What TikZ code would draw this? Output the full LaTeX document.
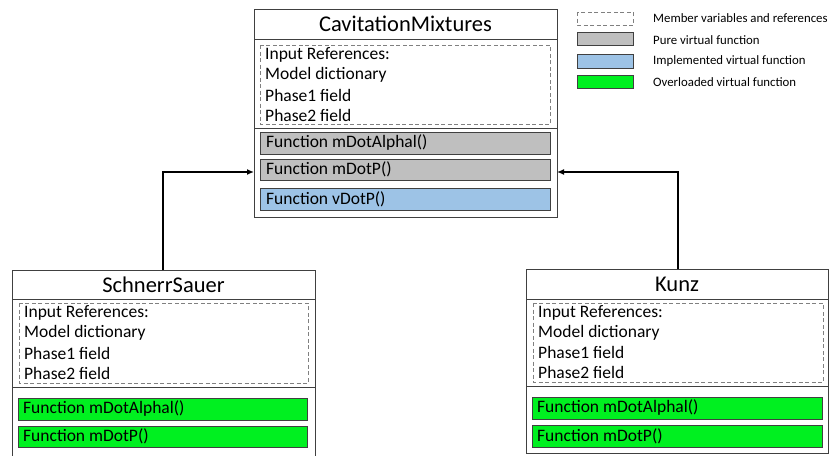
\documentclass[tikz,border=0pt]{standalone}
\usepackage{fontspec}
\setmainfont{Carlito}
\usetikzlibrary{arrows.meta}
\definecolor{pvgray}{HTML}{BFBFBF}
\definecolor{ivblue}{HTML}{9DC3E6}
\definecolor{ovgreen}{HTML}{00F020}
\definecolor{edgegray}{HTML}{404040}
\tikzset{
  classbox/.style={draw=edgegray, line width=0.9pt},
  sepline/.style={draw=edgegray, line width=0.9pt},
  membox/.style={draw=gray, dashed, dash pattern=on 4pt off 2.5pt, line width=0.8pt},
  titletext/.style={font=\fontsize{22.5}{26}\selectfont, anchor=center, inner sep=0pt},
  bodytext/.style={font=\fontsize{17.5}{20}\selectfont, anchor=west, inner sep=0pt},
  pvbar/.style={draw=edgegray, fill=pvgray, line width=0.8pt},
  ivbar/.style={draw=edgegray, fill=ivblue, line width=0.8pt},
  ovbar/.style={draw=edgegray, fill=ovgreen, line width=0.8pt},
  legtext/.style={font=\fontsize{12.8}{15}\selectfont, anchor=west, inner sep=0pt},
  inherit/.style={draw=black, line width=1.3pt, -{Latex[length=7pt,width=6pt]}}
}
\begin{document}
\begin{tikzpicture}[x=1pt,y=-1pt]
\useasboundingbox (0,0) rectangle (829,455);

% ---------- Top class ----------
\draw[classbox] (254,9) rectangle (557,217);
\coordinate (topL) at (254,172);
\coordinate (topR) at (557,172);
\draw[sepline] (254,39) -- (557,39);
\draw[sepline] (254,128) -- (557,128);
\node[titletext] (ttitle) at (405.5,24) {CavitationMixtures};
\draw[membox] (260,45) rectangle (550,124);
\node[bodytext] (t1) at (265,55) {Input References:};
\node[bodytext] (t2) at (265,74.5) {Model dictionary};
\node[bodytext] (t3) at (265,95) {Phase1 field};
\node[bodytext] (t4) at (265,115) {Phase2 field};
\draw[pvbar] (260,132) rectangle (550,154);
\node[bodytext] (tf1) at (266,143) {Function mDotAlphal()};
\draw[pvbar] (260,159) rectangle (550,180);
\node[bodytext] (tf2) at (266,169.5) {Function mDotP()};
\draw[ivbar] (260,188) rectangle (550,210);
\node[bodytext] (tf3) at (266,199) {Function vDotP()};

% ---------- Left class ----------
\draw[classbox] (12,270) rectangle (315,456);
\coordinate (leftT) at (163,270);
\draw[sepline] (12,299) -- (315,299);
\draw[sepline] (12,387) -- (315,387);
\node[titletext] (ltitle) at (163.5,284.5) {SchnerrSauer};
\draw[membox] (19,303) rectangle (308,383);
\node[bodytext] (l1) at (24,313) {Input References:};
\node[bodytext] (l2) at (24,333) {Model dictionary};
\node[bodytext] (l3) at (24,353) {Phase1 field};
\node[bodytext] (l4) at (24,373) {Phase2 field};
\draw[ovbar] (18,398) rectangle (307,420);
\node[bodytext] (lf1) at (23,409) {Function mDotAlphal()};
\draw[ovbar] (18,426) rectangle (307,447);
\node[bodytext] (lf2) at (23,436.5) {Function mDotP()};

% ---------- Right class ----------
\draw[classbox] (526,269) rectangle (828,453);
\coordinate (rightT) at (678,269);
\draw[sepline] (526,299) -- (828,299);
\draw[sepline] (526,386) -- (828,386);
\node[titletext] (rtitle) at (677,284) {Kunz};
\draw[membox] (533,303) rectangle (823,382);
\node[bodytext] (r1) at (538,312.5) {Input References:};
\node[bodytext] (r2) at (538,332.5) {Model dictionary};
\node[bodytext] (r3) at (538,352.5) {Phase1 field};
\node[bodytext] (r4) at (538,372.5) {Phase2 field};
\draw[ovbar] (532,397) rectangle (822,419);
\node[bodytext] (rf1) at (537,408) {Function mDotAlphal()};
\draw[ovbar] (532,425) rectangle (822,447);
\node[bodytext] (rf2) at (537,436) {Function mDotP()};

% ---------- Inheritance arrows ----------
\draw[inherit] (leftT) |- (topL);
\draw[inherit] (rightT) |- (topR);

% ---------- Legend ----------
\draw[membox] (577,12) rectangle (633,25);
\node[legtext] (g1) at (653,18) {Member variables and references};
\draw[pvbar] (577,32) rectangle (633,45);
\node[legtext] (g2) at (653,40) {Pure virtual function};
\draw[ivbar] (577,54) rectangle (633,68);
\node[legtext] (g3) at (653,61.5) {Implemented virtual function};
\draw[ovbar] (577,75) rectangle (633,88);
\node[legtext] (g4) at (653,82) {Overloaded virtual function};
\end{tikzpicture}
\end{document}
